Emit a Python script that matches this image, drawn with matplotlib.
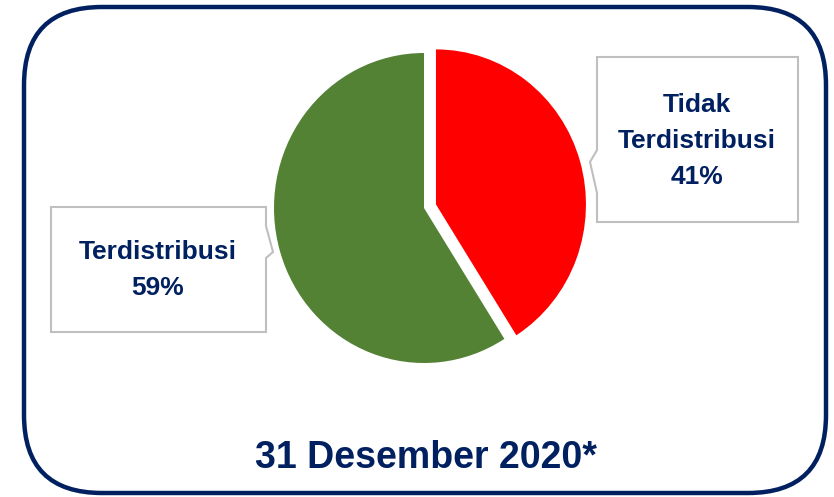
import matplotlib.pyplot as plt
from matplotlib.patches import FancyBboxPatch, Polygon

labels = ['Tidak\nTerdistribusi', 'Terdistribusi']
values = [41, 59]
colors = ['#FF0000', '#548235']
title = '31 Desember 2020*'

navy = '#002060'
W, H = 834, 497

fig = plt.figure(figsize=(W / 100, H / 100), dpi=100)
ax = fig.add_axes([0, 0, 1, 1])
ax.set_xlim(0, W)
ax.set_ylim(0, H)
ax.axis('off')

# outer rounded frame
frame = FancyBboxPatch((24, H - 493), 802, 486,
                       boxstyle='round,pad=0,rounding_size=78',
                       fc='none', ec=navy, lw=3.2)
ax.add_patch(frame)

# callout boxes
box_r = [(597, 57), (798, 57), (798, 222), (597, 222), (597, 193),
         (590, 162), (597, 150)]
box_l = [(51, 207), (266, 207), (266, 226), (273, 252), (266, 258),
         (266, 332), (51, 332)]
for pts in (box_r, box_l):
    ax.add_patch(Polygon([(x, H - y) for x, y in pts], closed=True,
                         fc='white', ec='#BFBFBF', lw=1.5))

font = 'Liberation Sans'
ax.text(697, H - 141, '%s\n%d%%' % (labels[0], values[0]), ha='center',
        va='center', fontsize=19, fontweight='bold', color=navy,
        family=font, linespacing=1.65)
ax.text(158, H - 270, '%s\n%d%%' % (labels[1], values[1]), ha='center',
        va='center', fontsize=19, fontweight='bold', color=navy,
        family=font, linespacing=1.65)

ax.text(426, H - 458, title, ha='center', va='center', fontsize=27,
        fontweight='bold', color=navy, family='Liberation Sans')

# pie in its own axes (slightly taller than wide, as in the original)
cx, cy, rx, ry, m = 424, 208, 150, 155, 1.2
pax = fig.add_axes([(cx - rx * m) / W, (H - cy - ry * m) / H,
                    2 * rx * m / W, 2 * ry * m / H])
pax.pie(values, colors=colors, startangle=90, counterclock=False,
        explode=[0.083, 0], radius=1, wedgeprops=dict(lw=0), frame=True)
pax.set_xlim(-m, m)
pax.set_ylim(-m, m)
pax.set_aspect('auto')
pax.axis('off')

fig.savefig('out.png', dpi=100)
